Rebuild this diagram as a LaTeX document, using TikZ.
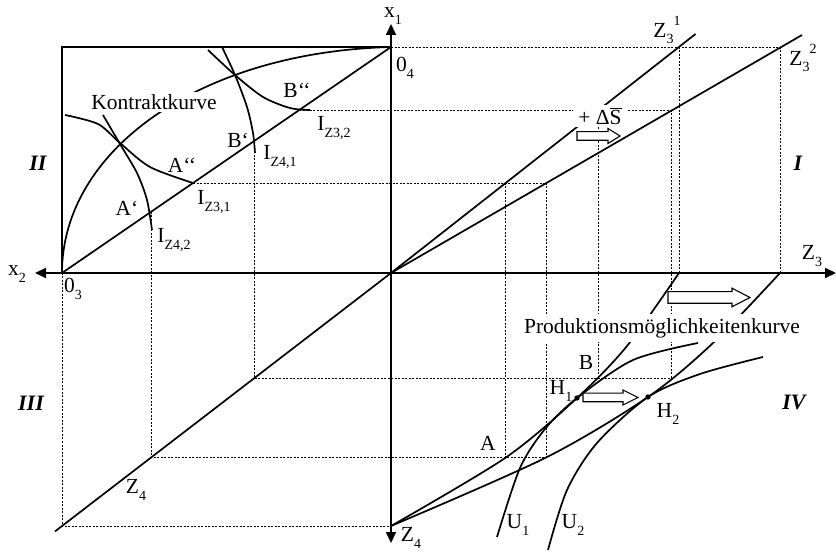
\documentclass[tikz,border=0pt]{standalone}
\usepackage{fontspec}
\setmainfont{Liberation Serif}
\usetikzlibrary{arrows.meta,calc}
\newcommand\sbs[1]{\raisebox{-0.3em}{\fontsize{14}{14}\selectfont #1}}
\newcommand\sps[1]{\raisebox{0.55em}{\fontsize{14}{14}\selectfont #1}}
\newcommand\hollowarrow[6]{\draw[line width=1.1pt,fill=white,line join=miter] (#1,#4-#5) -- (#2,#4-#5) -- (#2,#4-#6) -- (#3,#4) -- (#2,#4+#6) -- (#2,#4+#5) -- (#1,#4+#5) -- cycle;}
\begin{document}
\begin{tikzpicture}[x=1pt,y=-1pt,
  curve/.style={line width=1.7pt},
  axisline/.style={line width=2pt,{Triangle[length=11pt,width=10pt]}-{Triangle[length=11pt,width=10pt]}},
  guide/.style={line width=0.8pt,dash pattern=on 2pt off 1.5pt},
  lbl/.style={font=\fontsize{21.5}{23}\selectfont,inner sep=0pt},
  whitelbl/.style={lbl,fill=white},
  quad/.style={font=\fontsize{22}{23}\selectfont\bfseries\itshape,inner sep=0pt}]
\useasboundingbox (0,0) rectangle (836,553);
% key coordinates
\coordinate (O) at (391,273);
\coordinate (O3) at (62,273);
\coordinate (O4) at (391,47);
\coordinate (BL) at (62,47);
\coordinate (Z4b) at (391,526);
\coordinate (Apr) at (151,211.9);
\coordinate (Bpr) at (254,141);
\coordinate (Ic1) at (193,183);
\coordinate (Ic2) at (299.3,110);
\coordinate (P11) at (505.7,183);
\coordinate (P12) at (598.6,110);
\coordinate (P13) at (679,47);
\coordinate (P21) at (545.9,183);
\coordinate (P22) at (671.6,110);
\coordinate (P23) at (780,47);
\coordinate (Q1) at (151,457.6);
\coordinate (Q2) at (254,378.4);
\coordinate (Q3) at (62,526);
\coordinate (A) at (505.7,457.6);
\coordinate (A2) at (545.9,457.6);
\coordinate (B) at (598.6,378.4);
\coordinate (B2) at (671.6,378.4);
\coordinate (E1) at (679,273);
\coordinate (E2) at (780,273);
\coordinate (Z31e) at (695.5,34);
\coordinate (Z32e) at (802,35);
\coordinate (Z4e) at (55,531.4);
\coordinate (H1) at (577,398);
\coordinate (H2) at (648,397);
\coordinate (axL) at (35,273);
\coordinate (axR) at (836,273);
\coordinate (axT) at (391,24);
\coordinate (axB) at (391,543);
% guide lines
\draw[guide] (O4) -- (P23);
\draw[guide] (Ic2) -- (P22);
\draw[guide] (Ic1) -- (P21);
\draw[guide] (Apr) -- (Q1) -- (A2);
\draw[guide] (Bpr) -- (Q2) -- (B2);
\draw[guide] (O3) -- (Q3) -- (Z4b);
\draw[guide] (P11) -- (A);
\draw[guide] (P21) -- (A2);
\draw[guide] (P12) -- (B);
\draw[guide] (P22) -- (B2);
\draw[guide] (P13) -- (E1);
\draw[guide] (P23) -- (E2);
% axes
\draw[axisline] (axL) -- (axR);
\draw[axisline] (axT) -- (axB);
% box
\draw[curve] (O4) -- (BL) -- (O3);
\draw[curve] (O3) -- (O4);
% contract curve
\draw[curve] (O3) .. controls (62,150) and (200,52) .. (O4);
% indifference curves in the box
\draw[curve] plot[smooth] coordinates {(103,115) (120,144) (137,173) (147,200) (152,230)};
\draw[curve] plot[smooth] coordinates {(65,115) (98,124) (120,143) (150,167) (193,183)};
\draw[curve] plot[smooth] coordinates {(222,47) (235,75) (247,107) (253,133) (255,153)};
\draw[curve] plot[smooth] coordinates {(208,50) (235,75) (263,97) (290,108) (310,110)};
% quadrant I lines
\draw[curve] (O) -- (Z31e);
\draw[curve] (O) -- (Z32e);
% quadrant III line
\draw[curve] (O) -- (Z4e);
% quadrant IV curves
\draw[curve] plot[smooth] coordinates {(391,526) (505.7,457.6) (577,398) (627,346) (679,273)};
\draw[curve] plot[smooth] coordinates {(391,526) (545.9,457.6) (648,397) (713,343) (780,273)};
\draw[curve] plot[smooth] coordinates {(497,537) (520,468) (545,429) (577,398) (633,360) (698,343)};
\draw[curve] plot[smooth] coordinates {(548,550) (567,490) (597,443) (648,397) (700,374) (763,357)};
\fill (H1) circle (2.7pt);
\fill (H2) circle (2.7pt);
% white labels
\node[whitelbl,inner xsep=2pt,inner ysep=2pt] (kk) at (154,102) {Kontraktkurve};
\node[whitelbl,inner xsep=2pt,inner ysep=4pt] (pmk) at (662,328) {Produktionsmöglichkeitenkurve};
\node[whitelbl,inner xsep=5pt,inner ysep=3pt] (ds) at (600,116) {+ Δ$\overline{\hbox{S}}$};
% hollow arrows
\hollowarrow{577}{608}{620}{136}{4.3}{7.5}
\hollowarrow{668}{732}{750}{297.5}{5.8}{9.3}
\hollowarrow{583}{623}{638}{397.5}{4.3}{7.5}
% labels
\node[lbl] (lx1) at (393,16) {x\sbs{1}};
\node[lbl] (lx2) at (17,274) {x\sbs{2}};
\node[lbl] (lo4) at (405,68) {0\sbs{4}};
\node[lbl] (lo3) at (73,289) {0\sbs{3}};
\node[lbl] (lz3) at (812,256) {Z\sbs{3}};
\node[lbl] (lz31) at (667,30) {Z\sbs{3}\sps{1}};
\node[lbl] (lz32) at (803,58) {Z\sbs{3}\sps{2}};
\node[lbl] (lz4a) at (136,490) {Z\sbs{4}};
\node[lbl] (lz4b) at (411,538) {Z\sbs{4}};
\node[lbl] (lbpp) at (297,90) {B‘‘};
\node[lbl] (lbp) at (238,140) {B‘};
\node[lbl] (lapp) at (182,165) {A‘‘};
\node[lbl] (lap) at (127,208) {A‘};
\node[lbl] (li32) at (334,128) {I\sbs{Z3,2}};
\node[lbl] (li41) at (280,157) {I\sbs{Z4,1}};
\node[lbl] (li31) at (214,202) {I\sbs{Z3,1}};
\node[lbl] (li42) at (174,240) {I\sbs{Z4,2}};
\node[lbl] (la) at (488,443) {A};
\node[lbl] (lb) at (586,362) {B};
\node[lbl] (lh1) at (561,391) {H\sbs{1}};
\node[lbl] (lh2) at (668,414) {H\sbs{2}};
\node[lbl] (lu1) at (518,525) {U\sbs{1}};
\node[lbl] (lu2) at (573,525) {U\sbs{2}};
\node[quad] (q2) at (38,163) {II};
\node[quad] (q1) at (798,163) {I};
\node[quad] (q3) at (31,403) {III};
\node[quad] (q4) at (794,402) {IV};
\end{tikzpicture}
\end{document}
